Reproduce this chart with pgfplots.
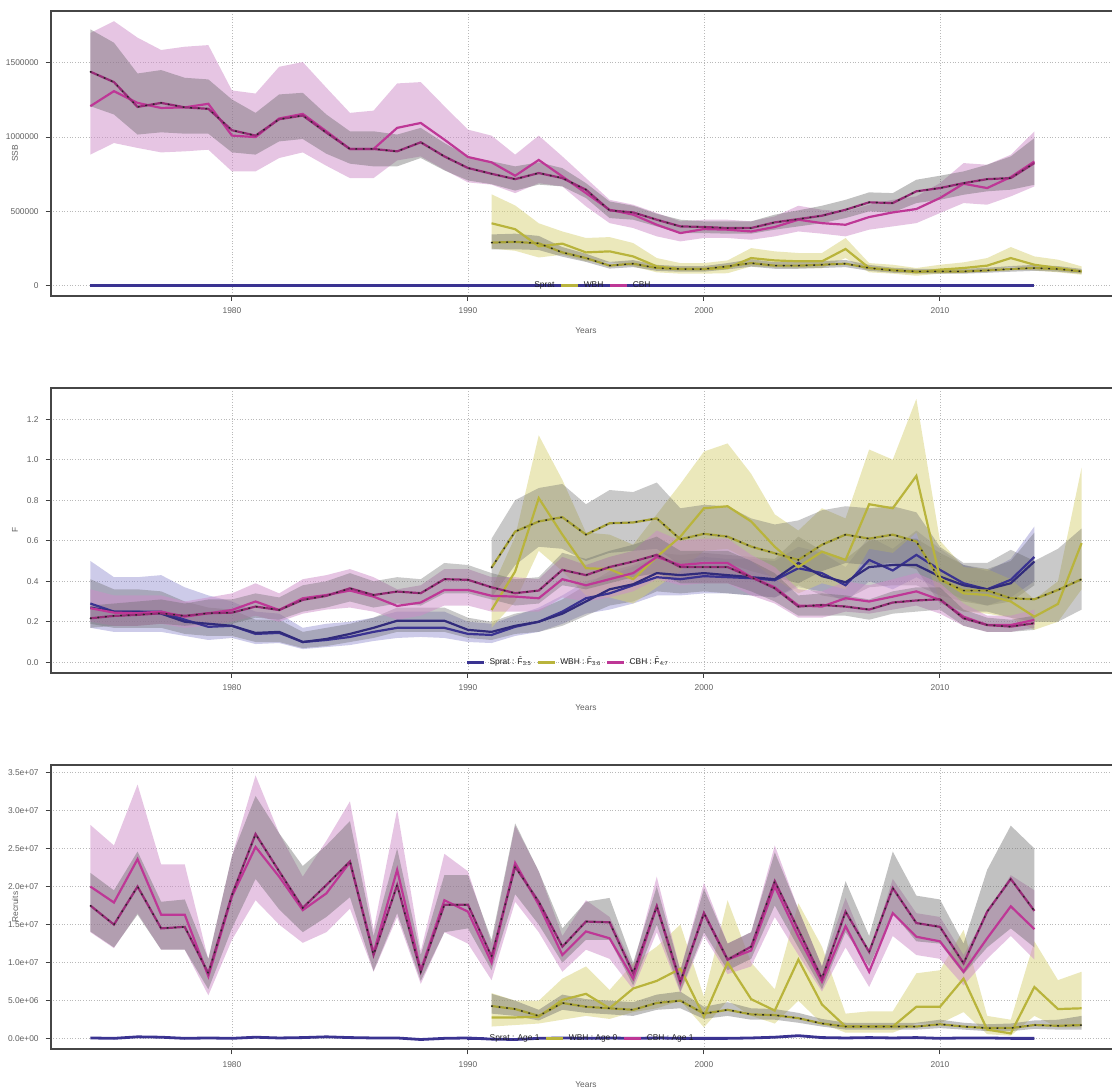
\documentclass[border=0pt]{standalone}
\usepackage{fontspec}
\setmainfont{Liberation Sans}
\usepackage{pgfplots}
\pgfplotsset{compat=1.18}
\usepackage{pgfplotstable}
\usepgfplotslibrary{fillbetween}

\definecolor{cSpr}{RGB}{58,51,145}
\definecolor{cWBH}{RGB}{185,180,60}
\definecolor{cCBH}{RGB}{190,55,150}
\definecolor{bSpr}{RGB}{130,125,200}
\definecolor{bWBH}{RGB}{215,210,120}
\definecolor{bCBH}{RGB}{205,140,200}
\definecolor{bGry}{RGB}{100,100,100}

% ---------- SSB ----------
\pgfplotstableread{
year v
1974 2500
1980 2500
1990 2500
2000 2500
2014 2500
}\ssbSpr
\pgfplotstableread{
year a alo ahi b blo bhi
1991 420000 250000 615000 290000 245000 345000
1992 380000 235000 540000 295000 245000 350000
1993 265000 190000 420000 285000 240000 335000
1994 283000 208000 365000 224000 195000 260000
1995 224000 164000 321000 186000 160000 215000
1996 231000 160000 327000 135000 115000 160000
1997 197000 130000 287000 148000 125000 172000
1998 130000 90000 186000 119000 100000 140000
1999 112000 81000 152000 112000 94000 132000
2000 112000 81000 152000 112000 94000 132000
2001 119000 84000 170000 130000 110000 152000
2002 186000 130000 253000 152000 128000 178000
2003 170000 122000 231000 135000 114000 158000
2004 164000 118000 220000 135000 114000 158000
2005 164000 118000 220000 141000 119000 165000
2006 247000 186000 321000 148000 125000 173000
2007 119000 90000 152000 119000 100000 140000
2008 108000 81000 141000 103000 87000 121000
2009 90000 67000 119000 96000 81000 113000
2010 108000 81000 141000 96000 81000 113000
2011 119000 85000 157000 96000 81000 113000
2012 135000 95000 186000 103000 87000 121000
2013 186000 130000 260000 112000 94000 132000
2014 141000 103000 197000 119000 100000 140000
2015 119000 90000 175000 112000 94000 132000
2016 96000 74000 130000 96000 81000 113000
}\ssbWBH
\pgfplotstableread{
year a alo ahi b blo bhi
1974 1208000 882000 1700000 1440000 1208000 1725000
1975 1309000 960000 1780000 1370000 1152000 1635000
1976 1230000 927000 1669000 1203000 1017000 1428000
1977 1196000 897000 1586000 1230000 1032000 1451000
1978 1200000 904000 1608000 1200000 1023000 1399000
1979 1224000 915000 1619000 1190000 1023000 1388000
1980 1010000 769000 1314000 1046000 897000 1253000
1981 1000000 769000 1293000 1010000 882000 1163000
1982 1125000 859000 1473000 1120000 971000 1287000
1983 1156000 897000 1505000 1145000 987000 1298000
1984 1039000 807000 1332000 1030000 888000 1152000
1985 920000 724000 1163000 920000 821000 1039000
1986 920000 724000 1178000 920000 803000 1039000
1987 1062000 843000 1361000 904000 803000 1017000
1988 1095000 870000 1370000 965000 859000 1062000
1989 983000 780000 1208000 870000 776000 960000
1990 866000 695000 1050000 792000 708000 870000
1991 830000 680000 1010000 753000 683000 837000
1992 740000 623000 882000 717000 640000 803000
1993 846000 690000 1010000 758000 680000 830000
1994 735000 668000 870000 724000 668000 791000
1995 623000 534000 724000 646000 590000 690000
1996 511000 421000 578000 507000 455000 567000
1997 478000 388000 545000 493000 444000 538000
1998 410000 332000 489000 444000 399000 484000
1999 354000 298000 433000 399000 354000 444000
2000 381000 321000 444000 395000 354000 433000
2001 377000 321000 444000 388000 350000 433000
2002 365000 309000 433000 388000 350000 433000
2003 395000 332000 466000 426000 377000 478000
2004 444000 365000 538000 448000 399000 507000
2005 421000 350000 511000 471000 421000 538000
2006 410000 332000 500000 511000 455000 578000
2007 462000 377000 545000 561000 500000 628000
2008 493000 399000 578000 556000 493000 623000
2009 516000 421000 601000 635000 556000 713000
2010 590000 489000 690000 657000 578000 740000
2011 686000 556000 825000 690000 612000 769000
2012 657000 545000 814000 717000 635000 814000
2013 731000 601000 881000 724000 646000 870000
2014 836000 668000 1038000 825000 679000 993000
}\ssbCBH

% ---------- F ----------
\pgfplotstableread{
year a alo ahi b blo bhi
1974 0.29 0.17 0.50 0.27 0.19 0.41
1975 0.25 0.15 0.42 0.25 0.17 0.36
1976 0.25 0.15 0.42 0.25 0.17 0.36
1977 0.25 0.15 0.43 0.24 0.17 0.35
1978 0.21 0.13 0.37 0.20 0.14 0.30
1979 0.175 0.11 0.33 0.19 0.13 0.27
1980 0.18 0.12 0.30 0.18 0.13 0.26
1981 0.14 0.09 0.25 0.145 0.10 0.21
1982 0.145 0.095 0.24 0.15 0.10 0.21
1983 0.10 0.065 0.17 0.10 0.07 0.15
1984 0.11 0.075 0.19 0.115 0.08 0.17
1985 0.125 0.085 0.20 0.14 0.10 0.19
1986 0.15 0.105 0.22 0.17 0.12 0.22
1987 0.17 0.12 0.25 0.205 0.15 0.27
1988 0.17 0.125 0.25 0.205 0.15 0.27
1989 0.17 0.12 0.25 0.205 0.15 0.27
1990 0.14 0.10 0.20 0.16 0.12 0.22
1991 0.135 0.095 0.19 0.15 0.11 0.20
1992 0.175 0.13 0.23 0.18 0.14 0.24
1993 0.20 0.15 0.27 0.20 0.15 0.26
1994 0.25 0.19 0.33 0.24 0.18 0.31
1995 0.316 0.24 0.40 0.30 0.23 0.38
1996 0.34 0.26 0.43 0.36 0.28 0.45
1997 0.38 0.29 0.47 0.385 0.30 0.48
1998 0.42 0.33 0.52 0.44 0.35 0.54
1999 0.41 0.33 0.50 0.43 0.34 0.53
2000 0.425 0.34 0.52 0.44 0.35 0.54
2001 0.42 0.34 0.51 0.43 0.34 0.53
2002 0.415 0.33 0.51 0.42 0.33 0.52
2003 0.405 0.32 0.50 0.41 0.32 0.51
2004 0.464 0.37 0.57 0.49 0.38 0.62
2005 0.44 0.35 0.54 0.425 0.33 0.55
2006 0.38 0.30 0.47 0.395 0.31 0.51
2007 0.505 0.40 0.62 0.47 0.37 0.60
2008 0.453 0.36 0.56 0.48 0.38 0.61
2009 0.53 0.42 0.65 0.48 0.38 0.61
2010 0.456 0.36 0.56 0.423 0.33 0.54
2011 0.39 0.31 0.48 0.38 0.30 0.48
2012 0.36 0.28 0.45 0.36 0.28 0.46
2013 0.407 0.32 0.51 0.39 0.30 0.50
2014 0.52 0.40 0.67 0.497 0.38 0.64
}\fSpr
\pgfplotstableread{
year a alo ahi b blo bhi
1991 0.258 0.17 0.36 0.467 0.32 0.61
1992 0.448 0.30 0.62 0.645 0.48 0.80
1993 0.81 0.55 1.12 0.695 0.57 0.86
1994 0.63 0.45 0.90 0.716 0.56 0.88
1995 0.464 0.33 0.64 0.63 0.50 0.78
1996 0.46 0.32 0.63 0.686 0.54 0.85
1997 0.41 0.29 0.58 0.69 0.55 0.84
1998 0.52 0.37 0.73 0.71 0.56 0.887
1999 0.62 0.45 0.88 0.607 0.48 0.76
2000 0.76 0.55 1.04 0.634 0.50 0.777
2001 0.77 0.56 1.08 0.62 0.49 0.77
2002 0.695 0.50 0.93 0.571 0.45 0.71
2003 0.57 0.41 0.73 0.538 0.42 0.68
2004 0.47 0.34 0.65 0.505 0.39 0.70
2005 0.546 0.39 0.76 0.58 0.45 0.75
2006 0.505 0.36 0.71 0.63 0.49 0.77
2007 0.78 0.56 1.05 0.61 0.48 0.76
2008 0.76 0.54 1.00 0.63 0.49 0.77
2009 0.92 0.64 1.30 0.596 0.46 0.74
2010 0.415 0.30 0.60 0.407 0.29 0.57
2011 0.34 0.25 0.47 0.354 0.25 0.49
2012 0.332 0.24 0.46 0.354 0.25 0.49
2013 0.30 0.22 0.41 0.316 0.22 0.555
2014 0.225 0.16 0.31 0.311 0.20 0.50
2015 0.288 0.20 0.40 0.357 0.20 0.56
2016 0.588 0.36 0.96 0.41 0.26 0.66
}\fWBH
\pgfplotstableread{
year a alo ahi b blo bhi
1974 0.267 0.20 0.36 0.217 0.17 0.28
1975 0.245 0.18 0.33 0.229 0.18 0.29
1976 0.242 0.18 0.33 0.234 0.18 0.30
1977 0.25 0.19 0.33 0.242 0.19 0.31
1978 0.225 0.17 0.30 0.229 0.18 0.29
1979 0.242 0.18 0.32 0.242 0.19 0.31
1980 0.258 0.20 0.34 0.245 0.19 0.31
1981 0.30 0.23 0.39 0.275 0.22 0.34
1982 0.258 0.20 0.34 0.258 0.21 0.32
1983 0.316 0.24 0.41 0.308 0.25 0.38
1984 0.332 0.26 0.43 0.328 0.27 0.40
1985 0.354 0.27 0.46 0.365 0.30 0.44
1986 0.324 0.25 0.42 0.332 0.27 0.40
1987 0.278 0.21 0.36 0.349 0.29 0.42
1988 0.295 0.23 0.38 0.341 0.28 0.41
1989 0.357 0.28 0.46 0.41 0.34 0.49
1990 0.357 0.28 0.46 0.407 0.34 0.48
1991 0.328 0.25 0.42 0.37 0.31 0.44
1992 0.324 0.25 0.42 0.341 0.28 0.41
1993 0.316 0.25 0.41 0.354 0.29 0.42
1994 0.41 0.32 0.52 0.456 0.38 0.54
1995 0.38 0.30 0.48 0.43 0.36 0.51
1996 0.41 0.32 0.52 0.47 0.39 0.55
1997 0.44 0.35 0.55 0.497 0.42 0.58
1998 0.52 0.41 0.65 0.53 0.44 0.62
1999 0.48 0.38 0.60 0.47 0.39 0.55
2000 0.49 0.39 0.61 0.47 0.39 0.55
2001 0.49 0.39 0.61 0.47 0.39 0.55
2002 0.42 0.33 0.53 0.42 0.35 0.50
2003 0.37 0.29 0.47 0.365 0.30 0.44
2004 0.28 0.22 0.36 0.275 0.23 0.33
2005 0.275 0.22 0.35 0.283 0.23 0.34
2006 0.316 0.25 0.40 0.275 0.23 0.33
2007 0.30 0.24 0.38 0.26 0.21 0.31
2008 0.324 0.26 0.41 0.295 0.24 0.35
2009 0.35 0.28 0.44 0.305 0.25 0.37
2010 0.308 0.24 0.39 0.311 0.26 0.37
2011 0.225 0.18 0.29 0.217 0.18 0.26
2012 0.184 0.15 0.23 0.184 0.15 0.22
2013 0.184 0.15 0.23 0.176 0.15 0.21
2014 0.209 0.17 0.26 0.193 0.16 0.23
}\fCBH

% ---------- Recruits (millions) ----------
\pgfplotstableread{
year v
1974 0.10
1975 0.05
1976 0.25
1977 0.20
1978 0.05
1979 0.10
1980 0.05
1981 0.20
1982 0.10
1983 0.15
1984 0.25
1985 0.15
1986 0.10
1987 0.10
1988 -0.10
1989 0.05
1990 0.10
1991 -0.05
1992 -0.10
1993 0.05
1994 0.10
1995 0.05
1996 0.10
1997 0.05
1998 0.10
1999 0.05
2000 0.05
2001 0.05
2002 0.10
2003 0.20
2004 0.40
2005 0.15
2006 0.10
2007 0.15
2008 0.10
2009 0.15
2010 0.05
2011 0.10
2012 0.10
2013 0.05
2014 0.05
}\rSpr
\pgfplotstableread{
year a alo ahi b blo bhi
1991 2.8 1.6 6.0 4.3 3.3 5.9
1992 2.8 1.8 5.0 3.9 3.0 5.0
1993 2.9 2.0 5.0 3.0 2.4 3.8
1994 5.1 2.5 7.9 4.7 3.8 5.8
1995 5.9 3.0 9.5 4.2 3.4 5.2
1996 4.0 2.6 6.4 4.0 3.2 5.0
1997 6.6 3.5 9.9 3.8 3.0 4.8
1998 7.6 4.0 12.1 4.7 3.8 5.8
1999 9.2 5.0 15.0 5.0 4.0 6.2
2000 2.9 1.5 5.5 3.3 2.6 4.2
2001 10.0 5.0 18.2 3.8 3.0 4.8
2002 5.2 3.0 10.0 3.2 2.5 4.0
2003 3.7 2.0 6.5 3.1 2.5 3.9
2004 10.4 5.0 17.8 2.7 2.1 3.4
2005 4.5 2.0 12.1 2.0 1.6 2.6
2006 1.6 0.8 3.3 1.6 1.2 2.1
2007 1.6 0.8 3.6 1.6 1.2 2.1
2008 1.6 0.8 3.6 1.6 1.2 2.1
2009 4.2 2.0 8.6 1.6 1.2 2.1
2010 4.2 2.0 9.0 1.9 1.4 2.5
2011 7.9 3.5 14.3 1.6 1.2 2.1
2012 1.2 0.6 3.0 1.4 1.0 1.9
2013 0.7 0.4 2.5 1.4 1.0 2.0
2014 6.8 3.0 12.8 1.8 1.3 2.4
2015 3.9 1.5 7.7 1.7 1.2 2.5
2016 4.0 1.5 8.8 1.8 1.2 3.0
}\rWBH
\pgfplotstableread{
year a alo ahi b blo bhi
1974 20.0 14.0 28.1 17.5 14.1 21.8
1975 17.9 11.9 25.4 15.0 12.0 19.5
1976 23.6 16.5 33.4 20.0 16.3 24.6
1977 16.3 11.7 22.9 14.5 11.7 18.0
1978 16.3 11.7 22.9 14.7 11.7 18.3
1979 8.2 5.7 10.4 8.6 6.5 10.5
1980 18.7 13.0 24.0 18.9 14.5 24.0
1981 25.2 18.2 34.6 26.9 21.0 31.9
1982 21.3 15.0 27.0 22.0 17.0 27.0
1983 16.9 12.6 21.3 17.2 14.0 22.7
1984 19.1 14.0 26.0 20.2 16.0 25.4
1985 23.2 17.1 31.2 23.3 18.6 28.6
1986 11.3 8.8 14.3 11.0 8.9 13.5
1987 22.2 16.0 30.1 20.2 16.5 25.0
1988 9.0 7.2 11.5 8.8 7.6 11.0
1989 18.2 14.0 24.3 17.6 14.0 21.5
1990 16.7 12.5 22.0 17.6 14.5 21.5
1991 10.0 7.7 12.5 10.8 9.0 13.0
1992 23.1 18.0 28.0 22.6 19.0 28.3
1993 17.6 14.0 22.0 18.0 15.0 22.0
1994 11.0 8.8 13.5 12.1 10.0 14.5
1995 14.1 11.7 18.2 15.4 13.0 18.0
1996 13.2 10.5 16.0 15.3 13.0 18.5
1997 7.9 6.5 9.5 8.6 7.0 10.0
1998 17.4 14.0 21.3 17.4 15.0 20.0
1999 7.3 6.0 9.0 7.5 6.2 9.0
2000 16.5 13.5 20.5 16.5 14.0 19.7
2001 10.4 8.5 12.5 10.4 9.0 12.5
2002 11.6 9.5 14.0 12.1 10.5 14.0
2003 20.0 16.0 25.4 20.7 17.5 24.5
2004 13.4 11.0 17.0 14.3 12.0 17.0
2005 7.5 6.2 9.5 7.9 6.5 9.5
2006 14.8 12.0 18.5 16.7 14.0 20.7
2007 8.8 6.8 11.0 11.4 9.5 13.5
2008 16.5 13.5 21.0 19.8 16.5 24.6
2009 13.4 11.0 16.5 15.2 12.8 18.8
2010 12.8 10.5 16.0 14.7 12.5 18.3
2011 8.8 7.0 11.0 9.9 8.5 12.5
2012 13.2 10.5 16.5 16.7 12.0 22.2
2013 17.4 13.5 21.5 21.0 14.5 28.0
2014 14.4 10.4 19.5 16.8 12.0 25.0
}\rCBH

\newcommand\myband[6]{%
  \addplot[name path=#5lo, draw=none, forget plot] table[x=year,y=#2]{#1};
  \addplot[name path=#5hi, draw=none, forget plot] table[x=year,y=#3]{#1};
  \addplot[fill=#4, fill opacity=#6, draw=none, forget plot] fill between[of=#5hi and #5lo];
}
\newcommand\mylines[3]{%
  \addplot[#2, line width=1.1pt, forget plot] table[x=year,y=a]{#1};
  \addplot[#3, line width=1.1pt, forget plot] table[x=year,y=b]{#1};
}
\newcommand\mydots[1]{%
  \addplot[black!85, line width=0.75pt, line cap=round, dash pattern=on 0.4pt off 3.4pt, forget plot] table[x=year,y=b]{#1};
}
\newcommand\Fbar[1]{\={F}\kern0.1pt\raisebox{-0.8pt}{\fontsize{2.9}{3}\selectfont #1}}

\pgfplotsset{
  myaxis/.style={
    scale only axis, width=535.25pt, height=142.3pt,
    xmin=1972.32, xmax=2017.68,
    xtick={1980,1990,2000,2010},
    xticklabels={1980,1990,2000,2010},
    scaled ticks=false,
    tick pos=left,
    tick align=outside,
    major tick length=2.5pt,
    every tick/.style={gray!50!black, line width=0.5pt},
    grid=major,
    major grid style={gray!55, line width=0.45pt, dash pattern=on 0.45pt off 0.9pt},
    axis line style={gray!55!black, line width=1.1pt},
    tick label style={font=\fontsize{4.2}{5}\selectfont, text=gray!75!black},
    label style={font=\fontsize{4.2}{5}\selectfont, text=gray!75!black},
    xlabel=Years,
    xlabel style={at={(axis description cs:0.5,-0.123)}, anchor=center},
    ylabel style={at={(axis description cs:-0.0333,0.5)}, anchor=center},
    legend style={draw=none, fill=none, anchor=center,
      font=\fontsize{4.2}{5}\selectfont, text=gray!25!black,
      inner sep=0pt, /tikz/every even column/.append style={column sep=0.8pt}},
    legend columns=3,
    legend image code/.code={\draw[#1] (0pt,0pt) -- (8.5pt,0pt);},
  }
}

\begin{document}
\begin{tikzpicture}

% ===== SSB =====
\begin{axis}[myaxis, at={(25.35pt,396.15pt)}, anchor=south west,
  ymin=-67300, ymax=1847800,
  ytick={0,500000,1000000,1500000},
  yticklabels={0,500000,1000000,1500000},
  ylabel={SSB},
  legend style={at={(0.4968,0.0351)}}]
\addlegendimage{cSpr, line width=1.4pt}\addlegendentry{Sprat}
\addlegendimage{cWBH, line width=1.4pt}\addlegendentry{WBH}
\addlegendimage{cCBH, line width=1.4pt}\addlegendentry{CBH}
\myband{\ssbWBH}{alo}{ahi}{bWBH}{sw}{0.5}
\myband{\ssbWBH}{blo}{bhi}{bGry}{sx}{0.4}
\myband{\ssbCBH}{alo}{ahi}{bCBH}{sc}{0.5}
\myband{\ssbCBH}{blo}{bhi}{bGry}{sd}{0.4}
\addplot[cSpr, line width=1.4pt, forget plot] table[x=year,y=v]{\ssbSpr};
\mylines{\ssbWBH}{cWBH}{cWBH!90!black}
\mydots{\ssbWBH}
\mylines{\ssbCBH}{cCBH}{cCBH!80!black}
\mydots{\ssbCBH}
\end{axis}

% ===== F =====
\begin{axis}[myaxis, at={(25.35pt,207.65pt)}, anchor=south west,
  ymin=-0.0514, ymax=1.353,
  ytick={0,0.2,0.4,0.6,0.8,1.0,1.2},
  yticklabels={0.0,0.2,0.4,0.6,0.8,1.0,1.2},
  ylabel={F},
  legend style={at={(0.484,0.0366)}}]
\addlegendimage{cSpr, line width=1.4pt}\addlegendentry{Sprat : \Fbar{3:5}}
\addlegendimage{cWBH, line width=1.4pt}\addlegendentry{WBH : \Fbar{3:6}}
\addlegendimage{cCBH, line width=1.4pt}\addlegendentry{CBH : \Fbar{4:7}}
\myband{\fSpr}{alo}{ahi}{bSpr}{fa}{0.4}
\myband{\fSpr}{blo}{bhi}{bGry}{fb}{0.35}
\myband{\fWBH}{alo}{ahi}{bWBH}{fc}{0.5}
\myband{\fWBH}{blo}{bhi}{bGry}{fd}{0.35}
\myband{\fCBH}{alo}{ahi}{bCBH}{fe}{0.5}
\myband{\fCBH}{blo}{bhi}{bGry}{ff}{0.35}
\mylines{\fSpr}{cSpr}{cSpr!85!black}
\mylines{\fWBH}{cWBH}{cWBH!90!black}
\mydots{\fWBH}
\mylines{\fCBH}{cCBH}{cCBH!80!black}
\mydots{\fCBH}
\end{axis}

% ===== Recruits =====
\begin{axis}[myaxis, at={(25.35pt,19.35pt)}, anchor=south west,
  ymin=-1.39, ymax=36.01,
  ytick={0,5,10,15,20,25,30,35},
  yticklabels={0.0e+00,5.0e+06,1.0e+07,1.5e+07,2.0e+07,2.5e+07,3.0e+07,3.5e+07},
  ylabel={Recruits},
  legend style={at={(0.496,0.0372)}}]
\addlegendimage{cSpr, line width=1.4pt}\addlegendentry{Sprat : Age 1}
\addlegendimage{cWBH, line width=1.4pt}\addlegendentry{WBH : Age 0}
\addlegendimage{cCBH, line width=1.4pt}\addlegendentry{CBH : Age 1}
\myband{\rWBH}{alo}{ahi}{bWBH}{ra}{0.5}
\myband{\rWBH}{blo}{bhi}{bGry}{rb}{0.4}
\myband{\rCBH}{alo}{ahi}{bCBH}{rc}{0.5}
\myband{\rCBH}{blo}{bhi}{bGry}{rd}{0.4}
\addplot[cSpr, line width=1.4pt, forget plot] table[x=year,y=v]{\rSpr};
\mylines{\rWBH}{cWBH}{cWBH!90!black}
\mydots{\rWBH}
\mylines{\rCBH}{cCBH}{cCBH!80!black}
\mydots{\rCBH}
\end{axis}

\pgfresetboundingbox
\path[use as bounding box] (0,0) rectangle (556pt,544pt);
\end{tikzpicture}
\end{document}
